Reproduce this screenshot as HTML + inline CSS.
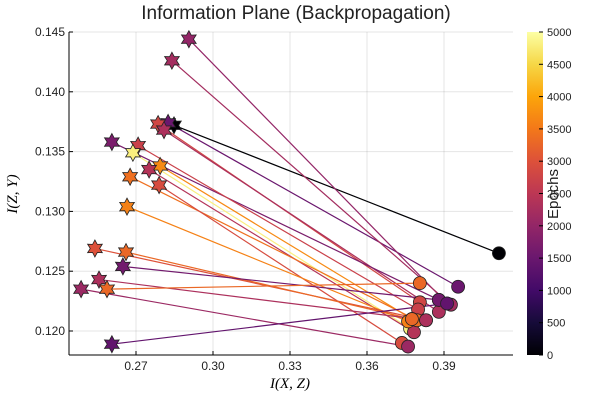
<!DOCTYPE html>
<html><head><meta charset="utf-8"><style>
body{margin:0;background:#fff;}
svg text{font-family:"Liberation Sans",sans-serif;}
svg text.serif{font-family:"Liberation Serif",serif;}
</style></head><body>
<svg id="chart" width="600" height="400">
<defs><linearGradient id="cb" x1="0" y1="1" x2="0" y2="0"></linearGradient></defs>
<text x="296" y="19" text-anchor="middle" font-size="19" fill="#222">Information Plane (Backpropagation)</text>
<g id="grid"></g><g id="lines"></g><g id="marks"></g><g id="axes"></g>
<text class="serif" x="290" y="388" text-anchor="middle" font-size="15" font-style="italic" style="font-family:'Liberation Serif',serif">I(X, Z)</text>
<text class="serif" transform="translate(17,194) rotate(-90)" text-anchor="middle" font-size="15" font-style="italic" style="font-family:'Liberation Serif',serif">I(Z, Y)</text>
<text transform="translate(558,194) rotate(-90)" text-anchor="middle" font-size="15" fill="#222">Epochs</text>
</svg>
<script>
const startX=[0.2848,0.2825,0.2906,0.2840,0.2786,0.2809,0.2606,0.2708,0.2688,0.2794,0.2751,0.2677,0.2790,0.2665,0.2540,0.2661,0.2649,0.2556,0.2587,0.2486,0.2606];
const startY=[0.1372,0.1374,0.1444,0.1426,0.1373,0.1368,0.1358,0.1355,0.1349,0.1338,0.1335,0.1329,0.1322,0.1304,0.1269,0.1266,0.1254,0.1243,0.1235,0.1235,0.1189];
const endX=[0.4114,0.3955,0.3912,0.3927,0.3806,0.3880,0.3880,0.3799,0.3768,0.3775,0.3783,0.3795,0.3736,0.3760,0.3830,0.3775,0.3880,0.3830,0.3806,0.3760,0.3912];
const endY=[0.1265,0.1237,0.1223,0.1222,0.1224,0.1216,0.1226,0.1218,0.1202,0.1210,0.1199,0.1209,0.1190,0.1208,0.1209,0.1210,0.1226,0.1209,0.1240,0.1187,0.1223];
const epochs=[0,1500,2000,2200,2800,2300,1700,2700,4800,3700,2400,3400,2900,3600,3000,3300,1600,2300,3300,2100,1400];
const xTicks=[0.27,0.30,0.33,0.36,0.39];
const yTicks=[0.120,0.125,0.130,0.135,0.140,0.145];
const cTicks=[0,500,1000,1500,2000,2500,3000,3500,4000,4500,5000];
const NS='http://www.w3.org/2000/svg';
const L=69,R=513,T=32,B=355;
const X=v=>136+(v-0.27)/0.03*77;
const Y=v=>32+(0.145-v)/0.005*59.8;
const C=v=>B-(v/5000)*(B-T);
const stops=['#000004','#160b39','#420a68','#6a176e','#932667','#bc3754','#dd513a','#f37819','#fca50a','#f6d746','#fcffa4'];
function hx(h){return [1,3,5].map(i=>parseInt(h.substr(i,2),16));}
function inferno(t){t=Math.max(0,Math.min(1,t));const f=t*10,i=Math.min(9,Math.floor(f)),r=f-i;const a=hx(stops[i]),b=hx(stops[i+1]);return 'rgb('+a.map((c,k)=>Math.round(c+(b[k]-c)*r)).join(',')+')';}
function mk(tag,attrs,parent){const e=document.createElementNS(NS,tag);for(const k in attrs)e.setAttribute(k,attrs[k]);parent.appendChild(e);return e;}
const grid=document.getElementById('grid'),axes=document.getElementById('axes'),lines=document.getElementById('lines'),marks=document.getElementById('marks');
xTicks.forEach(t=>{const x=X(t);
 const g=mk('line',{x1:x,x2:x,y1:T,y2:B,stroke:'#000','stroke-opacity':0.1},grid);
 
 
 mk('line',{x1:x,x2:x,y1:B,y2:B-4,stroke:'#000'},axes);
 const tx=mk('text',{x:x,y:B+15,'text-anchor':'middle','font-size':12,fill:'#222'},axes);tx.textContent=t.toFixed(2);
 
 
});
yTicks.forEach(t=>{const y=Y(t);
 const g=mk('line',{x1:L,x2:R,y1:y,y2:y,stroke:'#000','stroke-opacity':0.1},grid);
 
 
 mk('line',{x1:L,x2:L+4,y1:y,y2:y,stroke:'#000'},axes);
 const tx=mk('text',{x:L-4,y:y+4,'text-anchor':'end','font-size':12,fill:'#222'},axes);tx.textContent=t.toFixed(3);
 
 
});
mk('line',{x1:L,x2:L,y1:T,y2:B,stroke:'#000'},axes);
mk('line',{x1:L,x2:R,y1:B,y2:B,stroke:'#000'},axes);
const cb=document.getElementById('cb');
stops.forEach((s,i)=>mk('stop',{offset:(i/10),'stop-color':s},cb));
const bar=mk('rect',{x:527,y:T,width:16,height:B-T,fill:'url(#cb)'},axes);


cTicks.forEach(t=>{const y=C(t);
 mk('line',{x1:543,x2:539,y1:y,y2:y,stroke:'#000'},axes);
 const tx=mk('text',{x:547,y:y+4,'font-size':11,fill:'#222'},axes);tx.textContent=t;
 
 
});
function starPath(cx,cy,r){let p='';for(let i=0;i<12;i++){const a=-Math.PI/2+i*Math.PI/6;const rr=i%2?r*0.55:r;p+=(i?'L':'M')+(cx+rr*Math.cos(a)).toFixed(1)+','+(cy+rr*Math.sin(a)).toFixed(1);}return p+'Z';}
epochs.forEach((e,i)=>{
 const col=inferno(e/5000);
 const ln=mk('line',{x1:X(startX[i]),y1:Y(startY[i]),x2:X(endX[i]),y2:Y(endY[i]),stroke:col,'stroke-width':1.2},lines);
 
 
});
epochs.forEach((e,i)=>{
 const col=inferno(e/5000);
 const c=mk('circle',{cx:X(endX[i]),cy:Y(endY[i]),r:6.5,fill:col,stroke:'#222','stroke-width':0.8},marks);
 
 
});
epochs.forEach((e,i)=>{
 const col=inferno(e/5000);
 const s=mk('path',{d:starPath(X(startX[i]),Y(startY[i]),8.5),fill:col,stroke:'#222','stroke-width':0.8},marks);
 
 
});
</script>
</body></html>
